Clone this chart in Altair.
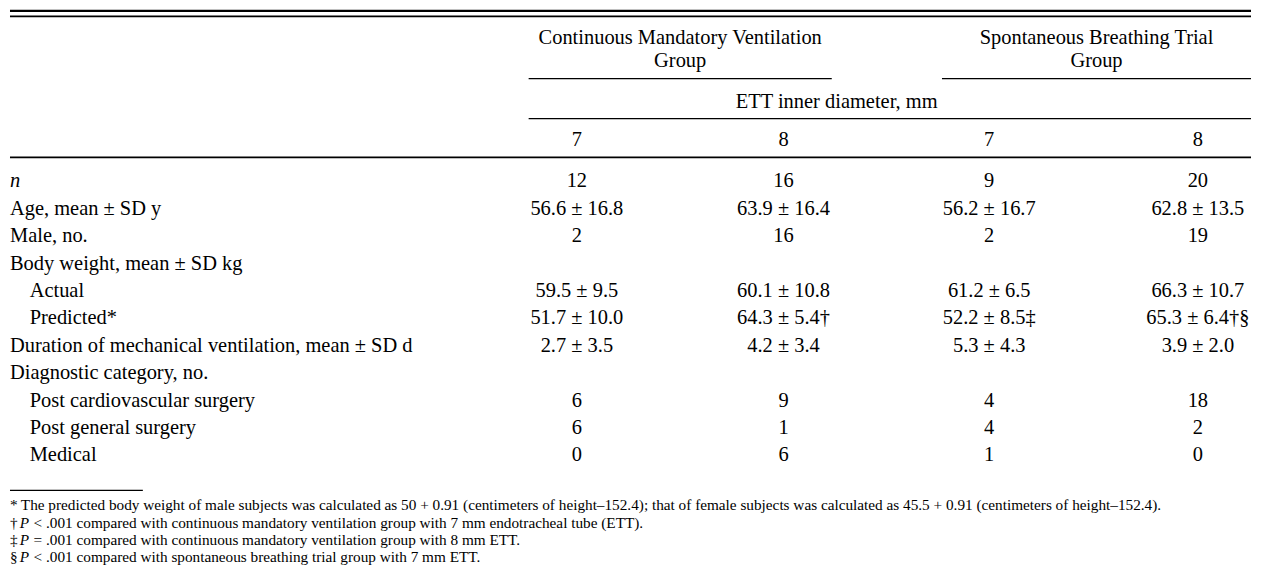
import altair as alt
import pandas as pd

# ---------------- data ----------------
row_labels = [
    "n",
    "Age, mean ± SD y",
    "Male, no.",
    "Body weight, mean ± SD kg",
    "Actual",
    "Predicted*",
    "Duration of mechanical ventilation, mean ± SD d",
    "Diagnostic category, no.",
    "Post cardiovascular surgery",
    "Post general surgery",
    "Medical",
]
row_indent = [0, 0, 0, 0, 1, 1, 0, 0, 1, 1, 1]
row_italic = [1, 0, 0, 0, 0, 0, 0, 0, 0, 0, 0]

cmv_7 = ["12", "56.6 ± 16.8", "2", "", "59.5 ± 9.5", "51.7 ± 10.0", "2.7 ± 3.5", "", "6", "6", "0"]
cmv_8 = ["16", "63.9 ± 16.4", "16", "", "60.1 ± 10.8", "64.3 ± 5.4†", "4.2 ± 3.4", "", "9", "1", "6"]
sbt_7 = ["9", "56.2 ± 16.7", "2", "", "61.2 ± 6.5", "52.2 ± 8.5‡", "5.3 ± 4.3", "", "4", "4", "1"]
sbt_8 = ["20", "62.8 ± 13.5", "19", "", "66.3 ± 10.7", "65.3 ± 6.4†§", "3.9 ± 2.0", "", "18", "2", "0"]

group_headers = [
    ["Continuous Mandatory Ventilation", "Group"],
    ["Spontaneous Breathing Trial", "Group"],
]
sub_header = "ETT inner diameter, mm"
diameters = ["7", "8", "7", "8"]

footnote_symbols = ["*", "†", "‡", "§"]
footnote_italic = ["", "P", "P", "P"]
footnote_texts = [
    "The predicted body weight of male subjects was calculated as 50 + 0.91 (centimeters of height–152.4); that of female subjects was calculated as 45.5 + 0.91 (centimeters of height–152.4).",
    "< .001 compared with continuous mandatory ventilation group with 7 mm endotracheal tube (ETT).",
    "= .001 compared with continuous mandatory ventilation group with 8 mm ETT.",
    "< .001 compared with spontaneous breathing trial group with 7 mm ETT.",
]

# ---------------- layout (reference pixel frame) ----------------
REF_W = 1261
W, H = 1245, 559
FONT = "Liberation Serif"
FS = 20.5
FS_NOTE = 15.3
COL_X = [576, 786, 995, 1207]
GROUP_X = [681, 1104]
GROUP_SPAN = [(527, 835), (947, 1261)]
ROW0, ROW_STEP = 177, 27.5
INDENT = 20

xs = alt.Scale(domain=[0, REF_W])
ys = alt.Scale(domain=[5, 5 + H], reverse=True)


def X(f="x"):
    return alt.X(f"{f}:Q", scale=xs, axis=None)


def Y(f="y"):
    return alt.Y(f"{f}:Q", scale=ys, axis=None)


# body labels
lab = pd.DataFrame({"label": row_labels, "indent": row_indent, "italic": row_italic})
lab["y"] = ROW0 + lab.index * ROW_STEP
lab["x"] = lab["indent"] * INDENT

labels_normal = alt.Chart(lab[lab["italic"] == 0]).mark_text(
    align="left", baseline="middle", font=FONT, fontSize=FS, color="black"
).encode(x=X(), y=Y(), text="label:N")
labels_italic = alt.Chart(lab[lab["italic"] == 1]).mark_text(
    align="left", baseline="middle", font=FONT, fontSize=FS, fontStyle="italic", color="black"
).encode(x=X(), y=Y(), text="label:N")

# body cells
cells = []
for ci, col in enumerate([cmv_7, cmv_8, sbt_7, sbt_8]):
    for ri, v in enumerate(col):
        if v:
            cells.append({"x": COL_X[ci], "y": ROW0 + ri * ROW_STEP, "v": v})
cells = pd.DataFrame(cells)
cell_text = alt.Chart(cells).mark_text(
    align="center", baseline="middle", font=FONT, fontSize=FS, color="black"
).encode(x=X(), y=Y(), text="v:N")

# headers
hdr = []
for gi, lines in enumerate(group_headers):
    for li, t in enumerate(lines):
        hdr.append({"x": GROUP_X[gi], "y": 33 + li * 23, "t": t})
hdr.append({"x": 840, "y": 97, "t": sub_header})
for ci, d in enumerate(diameters):
    hdr.append({"x": COL_X[ci], "y": 136, "t": d})
hdr = pd.DataFrame(hdr)
hdr_text = alt.Chart(hdr).mark_text(
    align="center", baseline="middle", font=FONT, fontSize=FS, color="black"
).encode(x=X(), y=Y(), text="t:N")

# rules
rules = [
    {"x": 0, "x2": REF_W, "y": 6, "w": 2.2},
    {"x": 0, "x2": REF_W, "y": 11.5, "w": 1.6},
    {"x": GROUP_SPAN[0][0], "x2": GROUP_SPAN[0][1], "y": 74, "w": 1.3},
    {"x": GROUP_SPAN[1][0], "x2": GROUP_SPAN[1][1], "y": 74, "w": 1.3},
    {"x": 527, "x2": REF_W, "y": 114, "w": 1.3},
    {"x": 0, "x2": REF_W, "y": 153, "w": 1.6},
    {"x": 0, "x2": 135, "y": 487, "w": 1.3},
]
rules = pd.DataFrame(rules)
rule_layer = alt.Chart(rules).mark_rule(color="black").encode(
    x=X(), x2="x2:Q", y=Y(), strokeWidth=alt.StrokeWidth("w:Q", scale=None)
)

# footnotes
NOTE_Y0, NOTE_STEP = 502, 17.3
fn = pd.DataFrame({"sym": footnote_symbols, "it": footnote_italic, "txt": footnote_texts})
fn["y"] = NOTE_Y0 + fn.index * NOTE_STEP
fn["xs"] = 0
fn["xi"] = 10
fn["xt"] = [11, 24, 24, 24]
note_sym = alt.Chart(fn).mark_text(
    align="left", baseline="middle", font=FONT, fontSize=FS_NOTE, color="black"
).encode(x=X("xs"), y=Y(), text="sym:N")
note_it = alt.Chart(fn[fn["it"] != ""]).mark_text(
    align="left", baseline="middle", font=FONT, fontSize=FS_NOTE, fontStyle="italic", color="black"
).encode(x=X("xi"), y=Y(), text="it:N")
note_txt = alt.Chart(fn).mark_text(
    align="left", baseline="middle", font=FONT, fontSize=FS_NOTE, color="black"
).encode(x=X("xt"), y=Y(), text="txt:N")

chart = alt.layer(
    rule_layer, labels_normal, labels_italic, cell_text, hdr_text, note_sym, note_it, note_txt
).properties(width=W, height=H, padding=0, background="white").configure_view(stroke=None)

chart.save("out.html", embed_options={"renderer": "svg", "actions": False})
